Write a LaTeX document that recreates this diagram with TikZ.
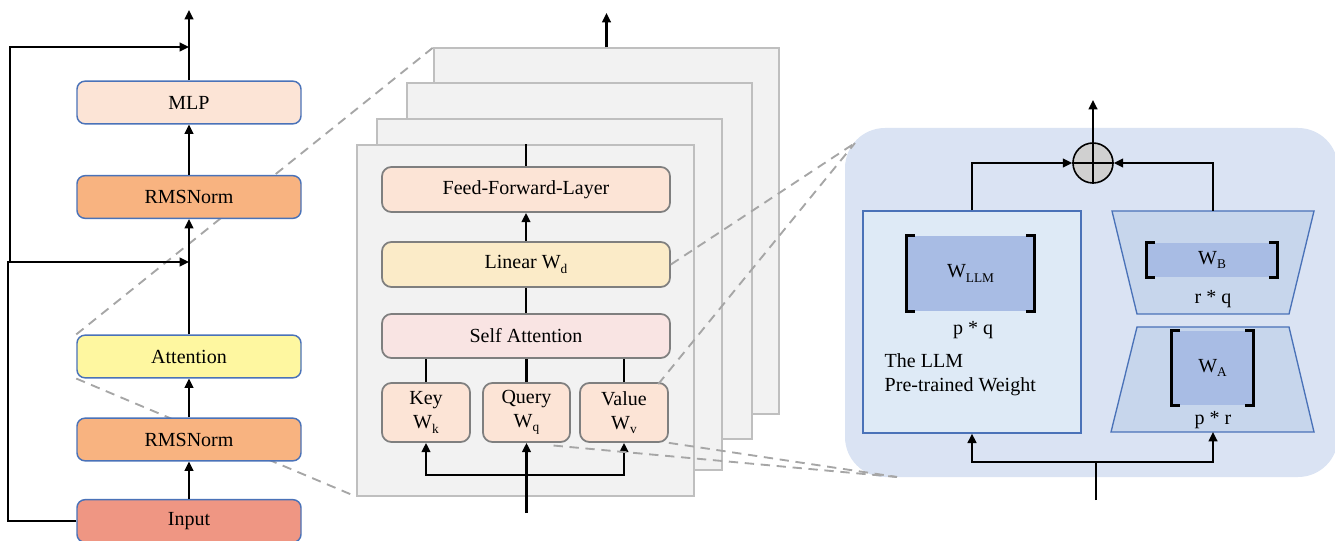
\documentclass[tikz,border=0pt]{standalone}
\usepackage{fontspec}
\setmainfont{Liberation Serif}
\usetikzlibrary{arrows.meta,calc}
\definecolor{bluebd}{HTML}{4A72B8}
\definecolor{mlpfill}{HTML}{FCE4D6}
\definecolor{rmsfill}{HTML}{F8B380}
\definecolor{attfill}{HTML}{FEF7A0}
\definecolor{inputfill}{HTML}{EF9683}
\definecolor{graybd}{HTML}{7F7F7F}
\definecolor{fflfill}{HTML}{FCE4D6}
\definecolor{linfill}{HTML}{FBEBC8}
\definecolor{safill}{HTML}{F9E4E3}
\definecolor{kqvfill}{HTML}{FCE4D6}
\definecolor{panelfill}{HTML}{F2F2F2}
\definecolor{panelbd}{HTML}{BFBFBF}
\definecolor{dashgray}{HTML}{A6A6A6}
\definecolor{lorabg}{HTML}{DAE3F3}
\definecolor{prefill}{HTML}{DEEAF6}
\definecolor{trapfill}{HTML}{C7D6EC}
\definecolor{wfill}{HTML}{A8BCE4}
\definecolor{circfill}{HTML}{D0D0D0}
\newcommand{\lsub}[1]{\raisebox{-0.5ex}{\fontsize{10}{10}\selectfont #1}}
\pgfdeclarelayer{bg}
\pgfsetlayers{bg,main}
\begin{document}
\begin{tikzpicture}[x=0.75pt,y=-0.75pt,
  font=\fontsize{15}{18}\selectfont,
  lbox/.style={draw=bluebd, line width=1.1pt, rounded corners=6pt, minimum width=168pt, minimum height=32pt, inner sep=0pt},
  mbox/.style={draw=graybd, line width=1.3pt, rounded corners=7pt, inner sep=0pt},
  panel/.style={draw=panelbd, fill=panelfill, line width=1pt, inner sep=0pt},
  arr/.style={-{Triangle[length=7pt,width=6.5pt]}, line width=1.6pt},
  ln/.style={line width=1.6pt},
  dsh/.style={draw=dashgray, dash pattern=on 7pt off 5pt, line width=1.4pt},
  brk/.style={line width=2pt, black},
  wbox/.style={fill=wfill, inner sep=0pt},
  trap/.style={fill=trapfill, draw=bluebd, line width=1pt}
]
\useasboundingbox (0,0) rectangle (1335,541);

% ---------- left column ----------
\node[lbox, fill=mlpfill] (mlp) at (189,102.5) {MLP};
\node[lbox, fill=rmsfill] (rms1) at (189,197) {RMSNorm};
\node[lbox, fill=attfill] (att) at (189,356.5) {Attention};
\node[lbox, fill=rmsfill] (rms2) at (189,439.5) {RMSNorm};
\node[lbox, fill=inputfill] (inp) at (189,521) {Input};
\coordinate (topout) at (189,10);
\coordinate (add2) at (189,262);
\coordinate (add1) at (189,47);
\coordinate (res2) at (8,262);
\coordinate (res1) at (10,262);

\draw[arr] (inp) -- (rms2);
\draw[arr] (rms2) -- (att);
\draw[arr] (att) -- (rms1);
\draw[arr] (rms1) -- (mlp);
\draw[arr] (mlp) -- (topout);
\draw[arr] (inp.west) -| (res2) -- (add2);
\draw[arr] (res1) |- (add1);

% ---------- middle stack ----------
\node[panel, minimum width=258.75pt, minimum height=274.5pt] (p4) at (606.5,231) {};
\node[panel, minimum width=258.75pt, minimum height=267pt] (p3) at (579.5,261) {};
\node[panel, minimum width=258.75pt, minimum height=263.25pt] (p2) at (549.5,294.5) {};
\node[panel, minimum width=252.75pt, minimum height=263.25pt] (p1) at (525.5,320.5) {};
\coordinate (midout) at (606.5,13);
\draw[arr] (p4.north) -- (midout);

\node[mbox, fill=fflfill, minimum width=216pt, minimum height=33.75pt] (ffl) at (526,189.5) {Feed-Forward-Layer};
\node[mbox, fill=linfill, minimum width=216pt, minimum height=33.75pt] (lin) at (526,264.5) {Linear W\lsub{d}};
\node[mbox, fill=safill, minimum width=216pt, minimum height=33pt] (sa) at (526,336) {Self Attention};
\node[mbox, fill=kqvfill, minimum width=66pt, minimum height=44.25pt, align=center] (key) at (426,412.5) {Key\\W\lsub{k}};
\node[mbox, fill=kqvfill, minimum width=65.25pt, minimum height=44.25pt, align=center] (qry) at (526.5,412.5) {Query\\W\lsub{q}};
\node[mbox, fill=kqvfill, minimum width=66pt, minimum height=44.25pt, align=center] (val) at (624,412.5) {Value\\W\lsub{v}};

\draw[ln] (ffl.north) -- (ffl.north |- p1.north);
\draw[arr] (lin) -- (ffl);
\draw[ln] (sa) -- (lin);
\draw[ln] (key.north) -- (key.north |- sa.south);
\draw[ln] (qry.north) -- (qry.north |- sa.south);
\draw[ln] (val.north) -- (val.north |- sa.south);
\coordinate (midin) at (526.5,513);
\coordinate (split) at (526.5,475);
\draw[arr] (midin) -- (qry.south);
\draw[arr] (split) -| (key.south);
\draw[arr] (split) -| (val.south);

% ---------- LoRA block ----------
\begin{pgfonlayer}{bg}
\fill[lorabg, rounded corners=30pt] (845,128) rectangle (1338,477);
\end{pgfonlayer}
\coordinate (lnw) at (855,143);
\coordinate (lsw) at (897,477);

\node[draw=bluebd, line width=1pt, fill=prefill, minimum width=163.5pt, minimum height=166.5pt, inner sep=0pt] (pre) at (972,322) {};
\node[wbox, minimum width=95.25pt, minimum height=56.25pt] (wllm) at (970.5,273.5) {W\lsub{LLM}};
\draw[brk] ([xshift=6pt]wllm.north west) -- (wllm.north west) -- (wllm.south west) -- ([xshift=6pt]wllm.south west);
\draw[brk] ([xshift=-6pt]wllm.north east) -- (wllm.north east) -- (wllm.south east) -- ([xshift=-6pt]wllm.south east);
\node (pq) at (973,330) {p * q};
\node[anchor=west, align=left] (prelbl) at (880,375) {The LLM\\Pre-trained Weight};

\draw[trap] (1112,211) -- (1314,211) -- (1289,314) -- (1137,314) -- cycle;
\draw[trap] (1137,327) -- (1289,327) -- (1314,432) -- (1111,432) -- cycle;
\coordinate (btop) at (1213,211);
\coordinate (abot) at (1213,432);

\node[wbox, minimum width=97.5pt, minimum height=25.5pt] (wb) at (1212,260) {W\lsub{B}};
\draw[brk] ([xshift=6pt]wb.north west) -- (wb.north west) -- (wb.south west) -- ([xshift=6pt]wb.south west);
\draw[brk] ([xshift=-6pt]wb.north east) -- (wb.north east) -- (wb.south east) -- ([xshift=-6pt]wb.south east);
\node (rq) at (1213,299) {r * q};

\node[wbox, minimum width=60.75pt, minimum height=55.5pt] (wa) at (1212.5,368) {W\lsub{A}};
\draw[brk] ([xshift=6pt]wa.north west) -- (wa.north west) -- (wa.south west) -- ([xshift=6pt]wa.south west);
\draw[brk] ([xshift=-6pt]wa.north east) -- (wa.north east) -- (wa.south east) -- ([xshift=-6pt]wa.south east);
\node (pr) at (1213,420) {p * r};

\node[circle, draw=black, line width=1.2pt, fill=circfill, minimum size=30pt, inner sep=0pt] (sum) at (1093,163) {};
\draw[line width=1.2pt] (sum.north) -- (sum.south) (sum.west) -- (sum.east);
\coordinate (loraout) at (1093,100);
\draw[arr] (sum.north) -- (loraout);
\draw[arr] (pre.north) |- (sum.west);
\draw[arr] (btop) |- (sum.east);
\coordinate (lorain) at (1096,500);
\coordinate (lsplit) at (1096,462);
\draw[ln] (lorain) -- (lsplit);
\draw[arr] (lsplit) -| (pre.south);
\draw[arr] (lsplit) -| (abot);

% ---------- dashed projection lines ----------
\begin{pgfonlayer}{bg}
\draw[dsh] (att.north west) -- (p4.north west);
\draw[dsh] (att.south west) -- (p1.south west);
\end{pgfonlayer}
\draw[dsh] (lin.east) -- (lnw);
\draw[dsh] ([xshift=-8pt,yshift=-1.5pt]val.north east) -- (lnw);
\draw[dsh] ([xshift=-13pt,yshift=-2pt]qry.south east) -- (lsw);
\draw[dsh] (val.south east) -- (lsw);
\end{tikzpicture}
\end{document}
